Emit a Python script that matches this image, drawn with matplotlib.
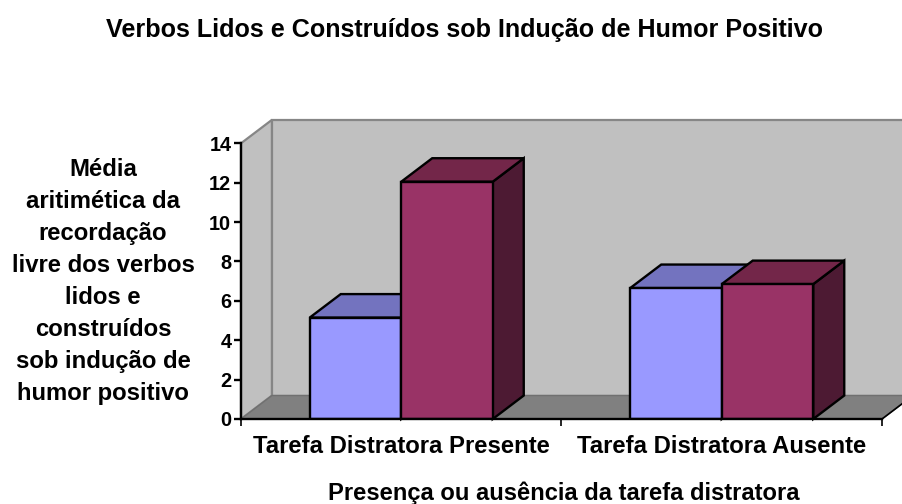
import matplotlib
matplotlib.use('Agg')
import matplotlib.pyplot as plt
from matplotlib.patches import Polygon

plt.rcParams['font.family'] = ['Liberation Sans', 'DejaVu Sans']
plt.rcParams['font.weight'] = 'bold'

categories = ['Tarefa Distratora Presente', 'Tarefa Distratora Ausente']
serie1 = [5.15, 6.65]
serie2 = [12.05, 6.85]
yticks = [0, 2, 4, 6, 8, 10, 12, 14]

titulo = 'Verbos Lidos e Construídos sob Indução de Humor Positivo'
ylabel = ('Média\naritimética da\nrecordação\nlivre dos verbos\nlidos e\n'
          'construídos\nsob indução de\nhumor positivo')
xlabel = 'Presença ou ausência da tarefa distratora'

W, H = 903, 504
fig = plt.figure(figsize=(W / 100, H / 100), dpi=100)
# eixo em pixels: x 241-882, y 143-419
ax = fig.add_axes([241 / W, 1 - 419 / H, (882 - 241) / W, (419 - 143.3) / H])
ax.set_xlim(0, 2)
ax.set_ylim(0, 14)
ax.patch.set_visible(False)

# profundidade do efeito 3D, em unidades dos eixos
dx = 31 / 320.5
dy = 23.5 / 19.7
larg = 0.2855


def poly(pts, fc, ec, lw, z):
    ax.add_patch(Polygon(pts, closed=True, facecolor=fc, edgecolor=ec, linewidth=lw,
                         zorder=z, clip_on=False, joinstyle='miter'))


# paredes e chao
poly([(0, 0), (dx, dy), (dx, 14 + dy), (0, 14)], '#c0c0c0', '#868686', 1.6, 1)
poly([(dx, dy), (2.2, dy), (2.2, 14 + dy), (dx, 14 + dy)], '#c0c0c0', '#868686', 1.6, 1)
poly([(0, 0), (dx, dy), (2 + dx, dy), (2, 0)], '#808080', '#707070', 1.0, 1.5)
ax.plot([2, 2 + dx], [0, dy], color='black', lw=1.2, zorder=2, clip_on=False)


def barra3d(x, h, frente, topo, lado, z):
    ax.bar(x, h, larg, align='edge', color=frente, edgecolor='black', linewidth=1.7, zorder=z + 0.2)
    poly([(x, h), (x + dx, h + dy), (x + larg + dx, h + dy), (x + larg, h)], topo, 'black', 1.7, z + 0.1)
    poly([(x + larg, 0), (x + larg + dx, dy), (x + larg + dx, h + dy), (x + larg, h)], lado, 'black', 1.7, z)


for i in range(len(categories)):
    barra3d(i + 0.5 - larg, serie1[i], '#9999ff', '#7373bf', '#4d4d80', 3 + i * 2)
    barra3d(i + 0.5, serie2[i], '#993366', '#732649', '#4d1a33', 4 + i * 2)

for s in ['top', 'right']:
    ax.spines[s].set_visible(False)
for s in ['left', 'bottom']:
    ax.spines[s].set_linewidth(1.7)
    ax.spines[s].set_zorder(10)

ax.set_yticks(yticks)
ax.set_xticks([0, 1, 2])
ax.set_xticklabels([])
ax.tick_params(axis='y', length=5, width=1.7, labelsize=14.3, pad=2)
ax.tick_params(axis='x', length=5, width=1.2)

for i, c in enumerate(categories):
    ax.text(i + 0.5, -1.38, c, ha='center', va='center', fontsize=17.2, fontweight='bold')

fig.text(465 / W, 1 - 30 / H, titulo, ha='center', va='center', fontsize=18.1, fontweight='bold')
fig.text(103 / W, 1 - 281.5 / H, ylabel, ha='center', va='center', fontsize=17.2, fontweight='bold',
         linespacing=1.5)
fig.text(564 / W, 1 - 493 / H, xlabel, ha='center', va='center', fontsize=17.1, fontweight='bold')

fig.savefig('out.png', dpi=100)
